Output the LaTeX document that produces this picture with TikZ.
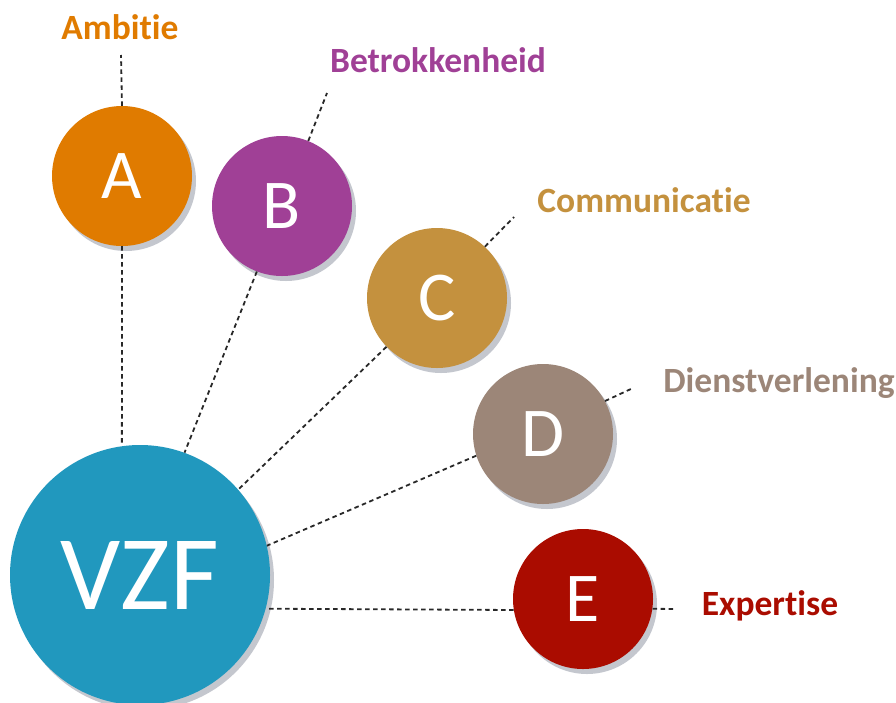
\documentclass[tikz,border=0pt]{standalone}
\usepackage{fontspec}
\setmainfont{Carlito}[Ligatures=NoCommon]
\usetikzlibrary{shadows}
\definecolor{cA}{RGB}{224,123,0}
\definecolor{cB}{RGB}{160,64,150}
\definecolor{cC}{RGB}{196,145,62}
\definecolor{cD}{RGB}{156,134,120}
\definecolor{cE}{RGB}{170,12,0}
\definecolor{cV}{RGB}{33,152,190}
\definecolor{shd}{RGB}{196,199,206}
\definecolor{lin}{RGB}{40,40,40}
\begin{document}
\begin{tikzpicture}[x=1pt,y=-1pt,
  ball/.style={circle, minimum size=140pt, inner sep=0pt, text=white,
    font=\fontsize{70}{70}\selectfont,
    drop shadow={shadow xshift=4pt,shadow yshift=-5pt,fill=shd,opacity=1}},
  lab/.style={font=\fontsize{35.5}{35.5}\selectfont\bfseries, anchor=base},
  conn/.style={draw=lin, line width=1.8pt, dash pattern=on 4.5pt off 3.5pt}]
\useasboundingbox (0,0) rectangle (896,702);
% circles
\node[ball, fill=cV, minimum size=260pt, font=\fontsize{106}{106}\selectfont] (V) at (140,575) {VZF};
\node[ball, fill=cA] (A) at (122,176) {A};
\node[ball, fill=cB] (B) at (282,206) {B};
\node[ball, fill=cC] (C) at (437,298) {C};
\node[ball, fill=cD] (D) at (543,434) {D};
\node[ball, fill=cE] (E) at (583,599) {E};
% labels
\node[lab, text=cA] (lA) at (120,39) {Ambitie};
\node[lab, text=cB] (lB) at (438,72) {Betrokkenheid};
\node[lab, text=cC] (lC) at (644,212) {Communicatie};
\node[lab, text=cD] (lD) at (779,392) {Dienstverlening};
\node[lab, text=cE] (lE) at (770,615) {Expertise};
% free ends
\coordinate (tA) at (121,55);
\coordinate (tB) at (327,93);
\coordinate (tC) at (514,217);
\coordinate (tD) at (633,388);
\coordinate (tE) at (676,609);
% connectors
\draw[conn] (A.north) -- (tA);
\draw[conn] (A.south) -- (V.98);
\draw[conn] (B.68) -- (tB);
\draw[conn] (B.249) -- (V.70);
\draw[conn] (C.47) -- (tC);
\draw[conn] (C.224) -- (V.41);
\draw[conn] (D.28) -- (tD);
\draw[conn] (D.198) -- (V.13);
\draw[conn] (E.352) -- (tE);
\draw[conn] (E.189) -- (V.345);
\end{tikzpicture}
\end{document}
